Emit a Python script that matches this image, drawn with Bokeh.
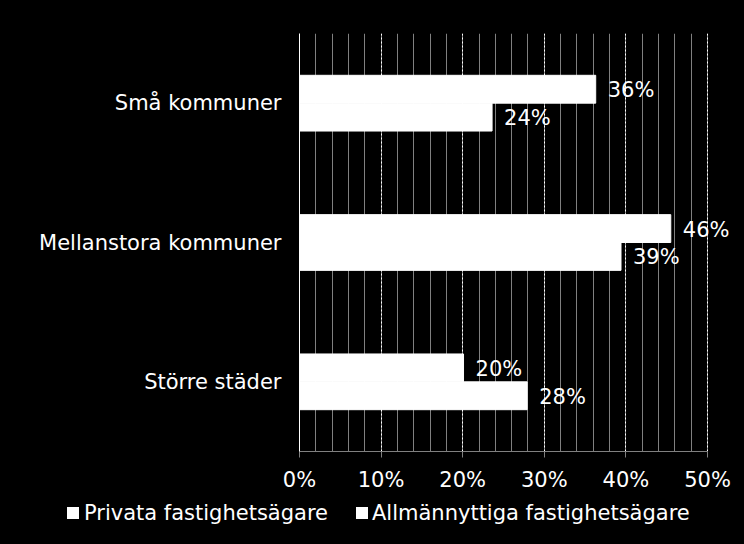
from bokeh.plotting import figure
from bokeh.layouts import column
from bokeh.models import (ColumnDataSource, FactorRange, Range1d, SingleIntervalTicker,
                          NumeralTickFormatter, LabelSet, Div)
from bokeh.core.properties import value
from bokeh.transform import dodge
from bokeh.embed import file_html
from bokeh.resources import INLINE

categories = ["Större städer", "Mellanstora kommuner", "Små kommuner"]
privata = [20.1, 45.5, 36.3]
allmannyttiga = [27.9, 39.4, 23.6]
privata_labels = ["20%", "46%", "36%"]
allm_labels = ["28%", "39%", "24%"]
series_names = ["Privata fastighetsägare", "Allmännyttiga fastighetsägare"]
tick_labels = {0: "0%", 10: "10%", 20: "20%", 30: "30%", 40: "40%", 50: "50%"}

FONT = "DejaVu Sans"
FS = "21px"

src = ColumnDataSource(dict(cat=categories, priv=privata, allm=allmannyttiga,
                            priv_lab=privata_labels, allm_lab=allm_labels))

# frame: left 299px (0%), 50% at 707px, right edge at 744px
x_end = 50 * (744 - 299) / (707 - 299)
p = figure(width=744, height=496, y_range=FactorRange(*categories, range_padding=0),
           x_range=Range1d(0, x_end), output_backend="svg", toolbar_location=None,
           background_fill_color="black", border_fill_color="black",
           min_border_left=299, min_border_right=0, min_border_top=33, min_border_bottom=45)
p.outline_line_color = None

p.hbar(y=dodge("cat", 0.1, range=p.y_range), right="priv", height=0.2, source=src,
       fill_color="white", line_color="white", line_width=1)
p.hbar(y=dodge("cat", -0.1, range=p.y_range), right="allm", height=0.2, source=src,
       fill_color="white", line_color="white", line_width=1)

for col, lab, off in (("priv", "priv_lab", 0.1), ("allm", "allm_lab", -0.1)):
    p.add_layout(LabelSet(x=col, y=dodge("cat", off, range=p.y_range), text=lab, source=src,
                          x_offset=12, y_offset=-1, text_baseline="middle", text_color="white",
                          text_font=value(FONT), text_font_size=value(FS)))

# x axis
p.xaxis.bounds = (0, 50)
p.xaxis.ticker = SingleIntervalTicker(interval=10, num_minor_ticks=5)
p.xaxis.formatter = NumeralTickFormatter(format="0")
p.xaxis.major_label_overrides = tick_labels
p.xaxis.axis_line_color = "#808080"
p.xaxis.major_tick_line_color = "#808080"
p.xaxis.major_tick_out = 6
p.xaxis.major_tick_in = 0
p.xaxis.minor_tick_out = 0
p.xaxis.minor_tick_in = 0
p.xaxis.major_label_standoff = 10
p.xaxis.major_label_text_color = "white"
p.xaxis.major_label_text_font = FONT
p.xaxis.major_label_text_font_size = FS

p.xgrid.bounds = (0, 50)
p.xgrid.grid_line_color = "white"
p.xgrid.grid_line_dash = "2 2"
p.xgrid.grid_line_width = 1
p.xgrid.minor_grid_line_color = "#808080"
p.xgrid.minor_grid_line_width = 1
p.ygrid.grid_line_color = None

# y axis
p.yaxis.axis_line_color = "white"
p.yaxis.major_tick_line_color = None
p.yaxis.minor_tick_line_color = None
p.yaxis.major_tick_out = 0
p.yaxis.major_tick_in = 0
p.yaxis.major_label_standoff = 18
p.yaxis.major_label_text_color = "white"
p.yaxis.major_label_text_font = FONT
p.yaxis.major_label_text_font_size = FS

# legend strip (HTML)
sq = "position:absolute;top:6px;width:12px;height:12px;background:#ffffff;"
tx = "position:absolute;top:-1px;line-height:26px;white-space:nowrap;"
legend_html = (
    '<div style="position:relative;width:734px;height:38px;">'
    f'<span style="{sq}left:62px;"></span>'
    f'<span style="{tx}left:79px;">{series_names[0]}</span>'
    f'<span style="{sq}left:351px;"></span>'
    f'<span style="{tx}left:367px;">{series_names[1]}</span>'
    '</div>'
)
leg = Div(text=legend_html, width=744, height=48,
          styles={"background-color": "#000000", "color": "#ffffff",
                  "font-family": FONT, "font-size": FS})

layout = column(p, leg, spacing=0)
html = file_html(layout, INLINE).replace("<body>", '<body style="margin:0;background-color:#000000;">')
open("out.html", "w").write(html)
